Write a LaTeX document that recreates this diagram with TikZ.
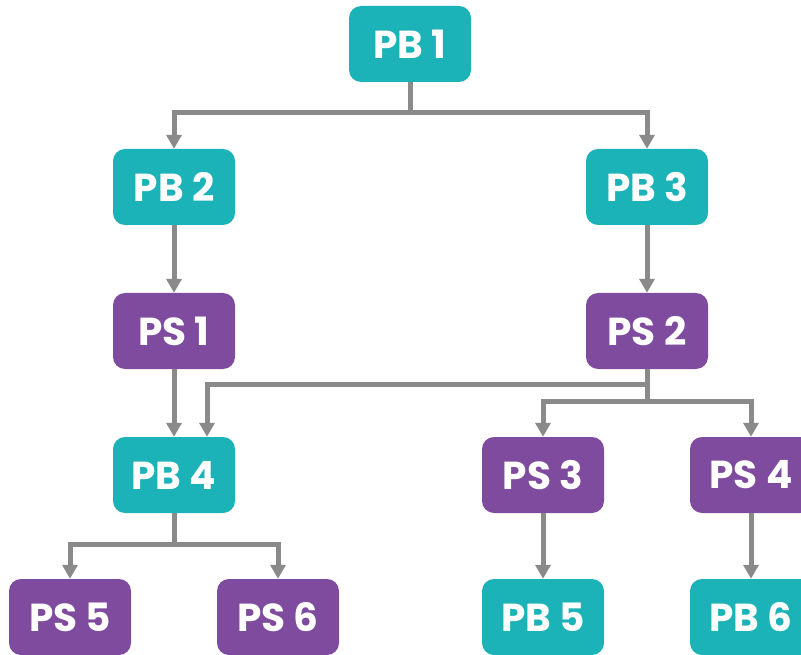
\documentclass[tikz,border=0pt]{standalone}
\usepackage{fontspec}
\setmainfont{Poppins}
\usetikzlibrary{arrows.meta,calc}
\definecolor{tealbox}{HTML}{1CB3B8}
\definecolor{purplebox}{HTML}{7E4B9F}
\definecolor{linegray}{HTML}{8A8A8A}
\tikzset{
  boxbase/.style={rounded corners=12pt, minimum width=122pt, minimum height=76pt,
    text=white, font=\fontsize{39}{42}\selectfont\bfseries, inner sep=0pt},
  pbbox/.style={boxbase, fill=tealbox},
  psbox/.style={boxbase, fill=purplebox},
  conn/.style={draw=linegray, line width=5pt},
  arr/.style={conn, -{Triangle[width=15pt,length=14pt]}}
}
\begin{document}
\begin{tikzpicture}[x=1pt,y=-1pt]
\useasboundingbox (0,0) rectangle (801,655);
\clip (0,0) rectangle (801,655);
\fill[white] (0,0) rectangle (801,655);
% nodes
\node[pbbox] (pb1) at (410,44) {PB 1};
\node[pbbox] (pb2) at (174,187) {PB 2};
\node[pbbox] (pb3) at (647,187) {PB 3};
\node[psbox] (ps1) at (174,331) {PS 1};
\node[psbox] (ps2) at (647,331) {PS 2};
\node[pbbox] (pb4) at (174,475) {PB 4};
\node[psbox] (ps3) at (543,475) {PS 3};
\node[psbox] (ps4) at (751,475) {PS 4};
\node[psbox] (ps5) at (70,617) {PS 5};
\node[psbox] (ps6) at (278,617) {PS 6};
\node[pbbox] (pb5) at (543,617) {PB 5};
\node[pbbox] (pb6) at (751,617) {PB 6};
% junctions
\coordinate (j1) at (410,113);
\coordinate (j2) at (647,384);
\coordinate (j3) at (647,401);
\coordinate (j4) at (174,544);
\coordinate (pb4in) at ($(pb4.north)+(33,0)$);
% connectors
\draw[conn] (pb1.south) -- (j1);
\draw[arr] (j1) -| (pb2.north);
\draw[arr] (j1) -| (pb3.north);
\draw[arr] (pb2.south) -- (pb2.south |- ps1.north);
\draw[arr] (pb3.south) -- (pb3.south |- ps2.north);
\draw[arr] (ps1.south) -- (pb4.north);
\draw[conn] (ps2.south) -- (j3);
\draw[arr] (j2) -| (pb4in);
\draw[arr] (j3) -| (ps3.north);
\draw[arr] (j3) -| (ps4.north);
\draw[conn] (pb4.south) -- (j4);
\draw[arr] (j4) -| (ps5.north);
\draw[arr] (j4) -| (ps6.north);
\draw[arr] (ps3.south) -- (pb5.north);
\draw[arr] (ps4.south) -- (pb6.north);
\end{tikzpicture}
\end{document}
